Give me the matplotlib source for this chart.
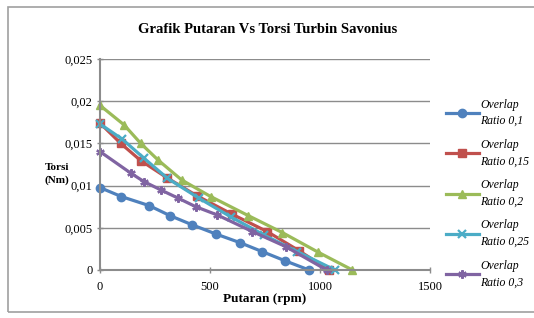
import matplotlib.pyplot as plt
from matplotlib.patches import Rectangle
from matplotlib.ticker import FuncFormatter

# putaran (rpm) dan torsi (Nm) per overlap ratio
rpm_01 = [0, 97, 223, 318, 420, 526, 636, 738, 839, 950]
torsi_01 = [0.00976, 0.0087, 0.00763, 0.00644, 0.00534, 0.00427, 0.00324, 0.00217, 0.00111, 0.0]

rpm_015 = [0, 94, 185, 303, 439, 601, 760, 904, 1041]
torsi_015 = [0.0174, 0.0150, 0.01296, 0.01095, 0.00881, 0.0066, 0.00455, 0.00229, 0.0]

rpm_02 = [0, 109, 185, 265, 371, 503, 674, 829, 992, 1147]
torsi_02 = [0.0195, 0.0172, 0.0150, 0.0130, 0.01067, 0.0087, 0.00644, 0.00443, 0.0021, 0.0]

rpm_025 = [0, 101, 200, 306, 450, 594, 745, 897, 1068]
torsi_025 = [0.0173, 0.0155, 0.01324, 0.01087, 0.0085, 0.0063, 0.00415, 0.00217, 0.0]

rpm_03 = [0, 140, 200, 276, 356, 435, 533, 693, 844, 1030]
torsi_03 = [0.01403, 0.01147, 0.01047, 0.00949, 0.0085, 0.0075, 0.00652, 0.00455, 0.00277, 0.0]

labels = ["Overlap\nRatio 0,1", "Overlap\nRatio 0,15", "Overlap\nRatio 0,2",
          "Overlap\nRatio 0,25", "Overlap\nRatio 0,3"]
colors = ["#4F81BD", "#C0504D", "#9BBB59", "#4BACC6", "#8064A2"]
markers = ["o", "s", "^", "x", (6, 2, 0)]

serif = "Liberation Serif"
grey = "#8C8C8C"

fig = plt.figure(figsize=(5.34, 3.18), dpi=100)
fig.patches.append(Rectangle((0.015, 0.019), 0.99, 0.959, transform=fig.transFigure,
                             fill=False, edgecolor="#A0A0A0", linewidth=1.2))
ax = fig.add_axes([0.1873, 0.151, 0.618, 0.6635])

series = [(rpm_01, torsi_01), (rpm_015, torsi_015), (rpm_02, torsi_02),
          (rpm_025, torsi_025), (rpm_03, torsi_03)]
for (x, y), lab, c, m in zip(series, labels, colors, markers):
    mew = 1.0
    if m == "x" or isinstance(m, tuple):
        mew = 1.6
    ax.plot(x, y, color=c, lw=2.3, marker=m, markersize=6, markeredgewidth=mew,
            markeredgecolor=c, label=lab, clip_on=False)

ax.set_xlim(0, 1500)
ax.set_ylim(0, 0.025)
ax.set_xticks([0, 500, 1000, 1500])
ax.set_yticks([0, 0.005, 0.01, 0.015, 0.02, 0.025])
ax.yaxis.set_major_formatter(FuncFormatter(
    lambda v, p: "0" if v == 0 else ("%g" % round(v, 3)).replace(".", ",")))
ax.grid(True, axis="y", color=grey, lw=1.0)
ax.set_axisbelow(True)
for s in ["top", "right"]:
    ax.spines[s].set_visible(False)
for s in ["left", "bottom"]:
    ax.spines[s].set_color(grey)
    ax.spines[s].set_linewidth(1.5)
ax.tick_params(axis="both", color=grey, length=4, width=1.0, direction="inout",
               labelsize=9)
ax.tick_params(axis="x", pad=6)
for lab in ax.get_xticklabels() + ax.get_yticklabels():
    lab.set_fontfamily(serif)

fig.text(0.502, 0.908, "Grafik Putaran Vs Torsi Turbin Savonius", ha="center", va="center",
         fontsize=10.5, fontweight="bold", family=serif)
fig.text(0.083, 0.452, "Torsi\n(Nm)", ha="left", va="center", fontsize=8,
         fontweight="bold", family=serif, linespacing=1.4)
ax.set_xlabel("Putaran (rpm)", fontsize=9.5, fontweight="bold", family=serif, labelpad=0)

leg = ax.legend(loc="upper left", bbox_to_anchor=(0.826, 0.705), bbox_transform=fig.transFigure,
                frameon=False, prop={"family": serif, "style": "italic", "size": 8.5},
                handlelength=2.8, handletextpad=0.1, labelspacing=1.0, borderaxespad=0)
for t in leg.get_texts():
    t.set_linespacing(1.5)

fig.savefig("out.png", dpi=100)
